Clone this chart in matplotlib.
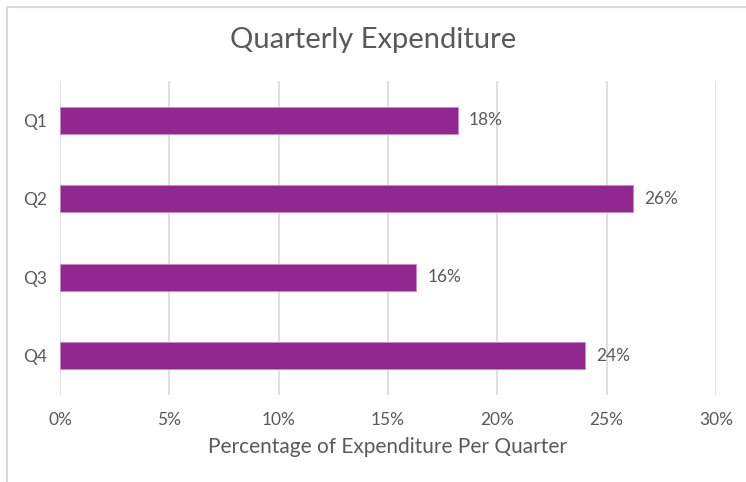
import matplotlib.pyplot as plt
from matplotlib.lines import Line2D

# Data
quarters = ["Q1", "Q2", "Q3", "Q4"]
values = [18.2, 26.2, 16.3, 24.0]
labels = ["18%", "26%", "16%", "24%"]
xticks = [0, 5, 10, 15, 20, 25, 30]

# Colors
bar_color = "#92278F"
text_color = "#595959"
grid_color = "#D9D9D9"

plt.rcParams['font.family'] = ['Lato', 'DejaVu Sans']

fig = plt.figure(figsize=(7.46, 4.82), dpi=100)
ax = fig.add_axes([60/746, 87/482, 656/746, 314/482])

ypos = list(range(len(quarters)))
ax.barh(ypos, values, height=0.34, color=bar_color, edgecolor="#C98BC6", linewidth=0.6, zorder=3)

# Value labels
for y, v, lab in zip(ypos, values, labels):
    ax.text(v + 0.5, y, lab, va='center', ha='left', fontsize=12.5, color=text_color)

ax.set_ylim(len(quarters) - 0.5, -0.5)
ax.set_xlim(0, 30)
ax.set_yticks(ypos)
ax.set_yticklabels(quarters)
ax.set_xticks(xticks)
ax.set_xticklabels([f"{t}%" for t in xticks])
ax.tick_params(axis='both', length=0, labelsize=12.5, labelcolor=text_color)
ax.tick_params(axis='x', pad=12)
ax.tick_params(axis='y', pad=9)

ax.grid(axis='x', color=grid_color, linewidth=1.2, zorder=0)
for s in ax.spines.values():
    s.set_visible(False)

ax.set_xlabel("Percentage of Expenditure Per Quarter", fontsize=15, color=text_color, labelpad=7)
fig.text(0.5, 1 - 40/482, "Quarterly Expenditure", ha='center', va='center', fontsize=21, color=text_color)

# Chart frame (top and left edges visible)
fig.add_artist(Line2D([7/746, 1], [1 - 7/482, 1 - 7/482], color=grid_color, linewidth=1.5))
fig.add_artist(Line2D([7/746, 7/746], [0, 1 - 7/482], color=grid_color, linewidth=1.5))

plt.savefig("out.png", dpi=100)
